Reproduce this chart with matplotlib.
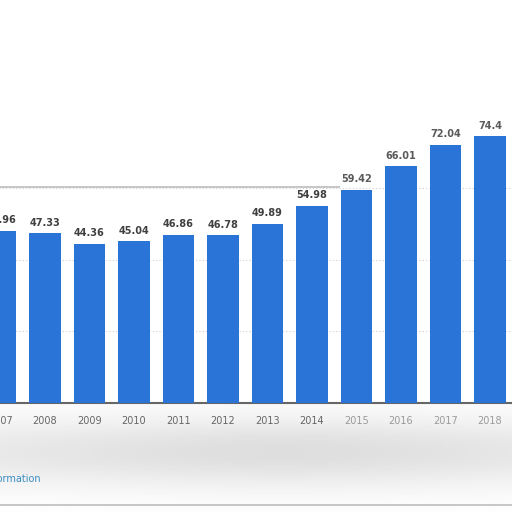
import numpy as np
import matplotlib.pyplot as plt

# data
years = ['2007', '2008', '2009', '2010', '2011', '2012', '2013',
         '2014', '2015', '2016', '2017', '2018']
values = [47.96, 47.33, 44.36, 45.04, 46.86, 46.78, 49.89,
          54.98, 59.42, 66.01, 72.04, 74.4]
value_labels = ['47.96', '47.33', '44.36', '45.04', '46.86', '46.78', '49.89',
                '54.98', '59.42', '66.01', '72.04', '74.4']
grid_values = [20, 40, 60]

W = 512.0
fig = plt.figure(figsize=(5.12, 5.12), dpi=100)
fig.patch.set_facecolor('white')

# soft grey smudge below the chart (background only)
bg = fig.add_axes([0, 0, 1, 1], zorder=-1)
yy = np.linspace(0, 1, 200)[:, None]
xx = np.linspace(0, 1, 200)[None, :]
band = np.exp(-((yy - 0.885) / 0.07) ** 2) * (0.55 + 0.45 * np.exp(-((xx - 0.55) / 0.5) ** 2))
bg.imshow(1 - 0.13 * band, cmap='gray', vmin=0, vmax=1, extent=(0, 1, 1, 0),
          aspect='auto', interpolation='bilinear')
bg.axhline(505 / W, color='#bdbdbd', linewidth=1.2)
bg.set_xlim(0, 1)
bg.set_ylim(1, 0)
bg.axis('off')

# axes placed so that the chart is cropped on the left and right
left = -21.75 / W
bottom = (512 - 403) / W
ax = fig.add_axes([left, bottom, 534 / W, 287 / W])
ax.set_facecolor('white')

x = np.arange(len(years))
ax.bar(x, values, width=0.7, color='#2a74d8', zorder=3)

for xi, v, lab in zip(x, values, value_labels):
    c = '#404040' if xi < 8 else '#5a5a5a'
    ax.annotate(lab, (xi, v), xytext=(0, 4), textcoords='offset points',
                ha='center', va='bottom', fontsize=7, fontweight='bold',
                color=c, zorder=4)

for g in grid_values:
    ax.axhline(g, color='#cfcfcf', linestyle=(0, (1, 2)), linewidth=0.8, zorder=1)
# greyish top edge seen at the 60 line on the left
ax.plot([-0.5, 7.6], [60.3, 60.3], color='#c6c6c6', linewidth=1.4, zorder=1)

ax.set_xlim(-0.5, len(years) - 0.5)
ax.set_ylim(0, 80)
ax.set_xticks(x)
ax.set_xticklabels(years, fontsize=7)
for i, t in enumerate(ax.get_xticklabels()):
    t.set_color('#666666' if i < 8 else '#9a9a9a')
ax.tick_params(axis='x', length=0, pad=9)
ax.set_yticks([])
for s in ['top', 'right', 'left']:
    ax.spines[s].set_visible(False)
ax.spines['bottom'].set_color('#666666')
ax.spines['bottom'].set_linewidth(1.5)

fig.text(41 / W, (512 - 479) / W, 'Additional Information', ha='right',
         va='center', fontsize=7, color='#3a8cc4')

fig.savefig('out.png', dpi=100)
